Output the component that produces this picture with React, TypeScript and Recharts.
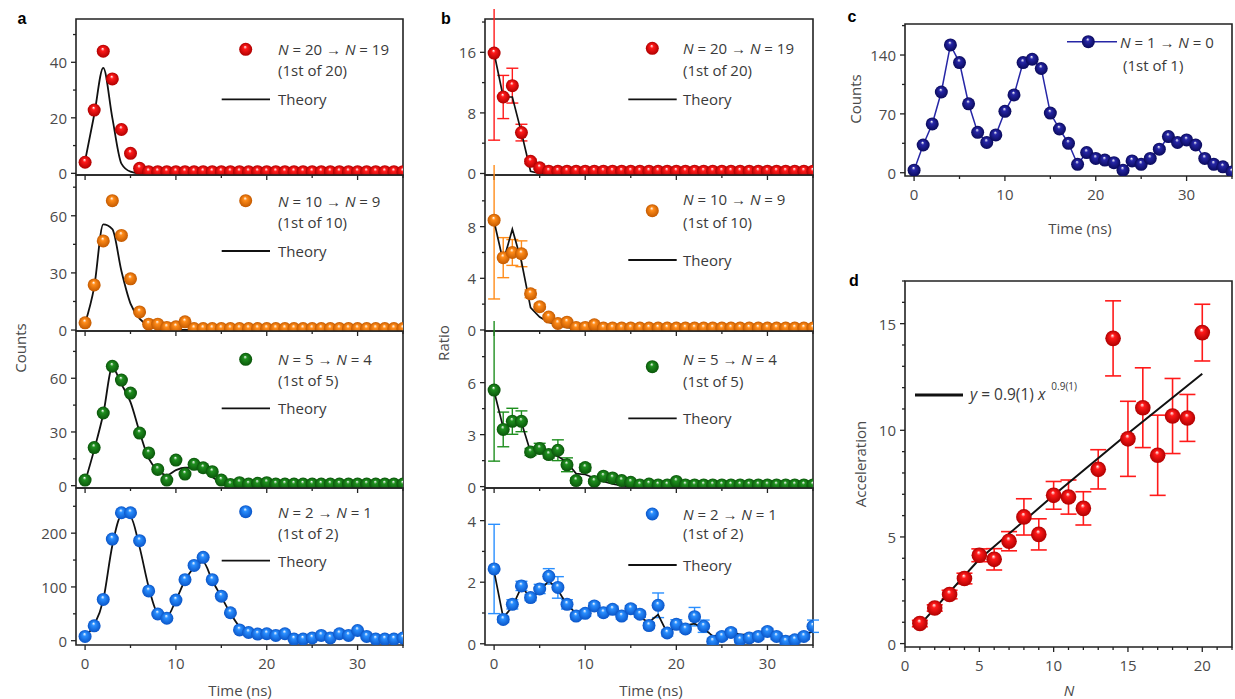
import React from 'react';
import { ComposedChart, Scatter, Line, XAxis, YAxis, ErrorBar, ReferenceArea } from 'recharts';

// ---------- data ----------
const TIME = [0, 1, 2, 3, 4, 5, 6, 7, 8, 9, 10, 11, 12, 13, 14, 15, 16, 17, 18, 19, 20, 21, 22, 23, 24, 25, 26, 27, 28, 29, 30, 31, 32, 33, 34, 35];

// panel a: counts
const A1_OBS = [4, 22.8, 44, 34, 15.8, 7.2, 1.8, 0.6, 0.6, 0.6, 0.6, 0.6, 0.6, 0.6, 0.6, 0.6, 0.6, 0.6, 0.6, 0.6, 0.6, 0.6, 0.6, 0.6, 0.6, 0.6, 0.6, 0.6, 0.6, 0.6, 0.6, 0.6, 0.6, 0.6, 0.6, 0.6];
const A1_TH = [4.5, 21, 38, 20, 3.5, 0.6, 0, 0, 0, 0, 0, 0, 0, 0, 0, 0, 0, 0, 0, 0, 0, 0, 0, 0, 0, 0, 0, 0, 0, 0, 0, 0, 0, 0, 0, 0];
const A2_OBS = [3.8, 23.7, 46.8, 67.9, 49.7, 26.9, 9.5, 3.1, 3.1, 1.4, 1.7, 4.3, 0.8, 0.8, 0.8, 0.8, 0.8, 0.8, 0.8, 0.8, 0.8, 0.8, 0.8, 0.8, 0.8, 0.8, 0.8, 0.8, 0.8, 0.8, 0.8, 0.8, 0.8, 0.8, 0.8, 0.8];
const A2_TH = [3.5, 22.5, 55.5, 53, 31, 13.9, 6, 2.3, 1, 0.5, 0.2, 0.1, 0, 0, 0, 0, 0, 0, 0, 0, 0, 0, 0, 0, 0, 0, 0, 0, 0, 0, 0, 0, 0, 0, 0, 0];
const A3_OBS = [3.1, 21.3, 40.6, 66.7, 59, 51.7, 29.4, 18.3, 9.1, 3.1, 14.3, 6.5, 11.9, 10, 7.8, 3.1, 0.7, 1.7, 0.9, 1.3, 1.7, 0.9, 0.9, 0.9, 0.9, 0.9, 0.9, 0.9, 0.9, 0.9, 0.9, 0.9, 0.9, 0.9, 0.9, 0.9];
const A3_TH = [2.2, 20, 40, 66, 56.7, 46.7, 30, 15.2, 8.7, 5.9, 8.7, 10, 10, 8.7, 5, 1.3, 0, 0, 0, 0, 0, 0, 0, 0, 0, 0, 0, 0, 0, 0, 0, 0, 0, 0, 0, 0];
const A4_OBS = [8, 27.6, 76.7, 189, 238, 238, 186, 92.6, 49.7, 41.7, 75.5, 113.5, 140, 155, 113.5, 82.8, 52, 20, 15.3, 12.3, 12.9, 9.8, 12.9, 3, 3, 5, 9.8, 5, 12.9, 9.8, 19, 8, 3, 3, 3, 5];
const A4_TH = [8, 29, 75.5, 177, 232, 230, 174, 100, 51, 45, 75.5, 112, 136, 146, 112, 81.6, 51, 26, 11, 6.7, 6.7, 6, 6, 3.7, 4.3, 5.5, 8, 9.8, 9.8, 10.4, 11, 8, 4.3, 2.5, 1.8, 1.8];

// panel b: ratio
const B1_OBS = [15.9, 10.1, 11.6, 5.4, 1.6, 0.75, 0.3, 0.3, 0.3, 0.3, 0.3, 0.3, 0.3, 0.3, 0.3, 0.3, 0.3, 0.3, 0.3, 0.3, 0.3, 0.3, 0.3, 0.3, 0.3, 0.3, 0.3, 0.3, 0.3, 0.3, 0.3, 0.3, 0.3, 0.3, 0.3, 0.3];
const B1_ERR = [11.5, 2.85, 2.3, 1.1, 0.3, 0.2, 0, 0, 0, 0, 0, 0, 0, 0, 0, 0, 0, 0, 0, 0, 0, 0, 0, 0, 0, 0, 0, 0, 0, 0, 0, 0, 0, 0, 0, 0];
const B1_TH = [15.9, 10.1, 10.1, 5.4, 0.3, 0, 0, 0, 0, 0, 0, 0, 0, 0, 0, 0, 0, 0, 0, 0, 0, 0, 0, 0, 0, 0, 0, 0, 0, 0, 0, 0, 0, 0, 0, 0];
const B2_OBS = [8.5, 5.6, 6.0, 5.9, 2.8, 1.8, 1.0, 0.5, 0.6, 0.2, 0.2, 0.4, 0.15, 0.15, 0.15, 0.15, 0.15, 0.15, 0.15, 0.15, 0.15, 0.15, 0.15, 0.15, 0.15, 0.15, 0.15, 0.15, 0.15, 0.15, 0.15, 0.15, 0.15, 0.15, 0.15, 0.15];
const B2_ERR = [6.1, 1.55, 1.0, 1.0, 0.3, 0.2, 0.15, 0.1, 0.1, 0.05, 0.05, 0.05, 0, 0, 0, 0, 0, 0, 0, 0, 0, 0, 0, 0, 0, 0, 0, 0, 0, 0, 0, 0, 0, 0, 0, 0];
const B2_TH = [8.4, 5.3, 7.8, 5.3, 1.73, 1.0, 0.6, 0.37, 0.2, 0.1, 0, 0, 0, 0, 0, 0, 0, 0, 0, 0, 0, 0, 0, 0, 0, 0, 0, 0, 0, 0, 0, 0, 0, 0, 0, 0];
const B3_OBS = [5.57, 3.3, 3.77, 3.77, 2.0, 2.2, 1.85, 2.1, 1.26, 0.35, 1.1, 0.3, 0.6, 0.5, 0.35, 0.25, 0.1, 0.15, 0.1, 0.1, 0.3, 0.1, 0.1, 0.1, 0.1, 0.1, 0.1, 0.1, 0.1, 0.1, 0.1, 0.1, 0.1, 0.1, 0.1, 0.1];
const B3_ERR = [4.1, 1.0, 0.75, 0.6, 0.2, 0.3, 0.2, 0.6, 0.4, 0.15, 0.2, 0.1, 0.1, 0.1, 0.1, 0.05, 0, 0, 0, 0, 0, 0, 0, 0, 0, 0, 0, 0, 0, 0, 0, 0, 0, 0, 0, 0];
const B3_TH = [5.5, 3.4, 3.6, 3.7, 2.0, 1.95, 1.85, 1.75, 1.4, 0.75, 0.7, 0.5, 0.3, 0.15, 0.05, 0, 0, 0, 0, 0, 0, 0, 0, 0, 0, 0, 0, 0, 0, 0, 0, 0, 0, 0, 0, 0];
const B4_OBS = [2.43, 0.79, 1.28, 1.88, 1.5, 1.78, 2.19, 1.83, 1.28, 0.9, 0.99, 1.23, 1.01, 1.12, 0.9, 1.14, 0.96, 0.59, 1.25, 0.35, 0.63, 0.48, 0.88, 0.57, 0.08, 0.24, 0.37, 0.13, 0.19, 0.24, 0.4, 0.24, 0.08, 0.13, 0.24, 0.57];
const B4_ERR = [1.45, 0.1, 0.15, 0.15, 0.1, 0.15, 0.25, 0.35, 0.15, 0.1, 0.1, 0.1, 0.1, 0.1, 0.1, 0.1, 0.1, 0.1, 0.4, 0.1, 0.15, 0.1, 0.3, 0.2, 0.1, 0.1, 0.1, 0.1, 0.1, 0.1, 0.1, 0.1, 0.1, 0.1, 0.1, 0.2];
const B4_TH = [2.35, 0.85, 1.2, 1.85, 1.5, 1.7, 2.05, 1.75, 1.25, 1.0, 0.98, 1.2, 1.05, 1.05, 0.95, 1.05, 0.85, 0.7, 0.95, 0.35, 0.55, 0.6, 0.65, 0.5, 0.25, 0.3, 0.38, 0.3, 0.3, 0.32, 0.35, 0.28, 0.22, 0.25, 0.28, 0.4];

// panel c: counts N=1 -> N=0
const C_COUNTS = [3, 33, 58, 96, 152, 131, 82, 48, 36, 45, 73, 92.5, 131, 135, 124, 71, 52, 35, 10, 24, 17, 15, 12, 3, 14, 10, 17, 28, 43, 36, 39, 33, 17, 10, 7, 1];

// panel d: acceleration vs N
const D_N = [1, 2, 3, 4, 5, 6, 7, 8, 9, 10, 11, 12, 13, 14, 15, 16, 17, 18, 19, 20];
const D_ACC = [0.94, 1.67, 2.3, 3.05, 4.14, 3.95, 4.8, 5.94, 5.12, 6.95, 6.87, 6.34, 8.17, 14.31, 9.6, 11.06, 8.83, 10.67, 10.58, 14.58];
const D_ERR = [0.15, 0.15, 0.2, 0.25, 0.3, 0.5, 0.45, 0.85, 0.73, 0.65, 0.8, 0.78, 0.92, 1.76, 1.76, 1.87, 1.88, 1.76, 1.1, 1.33];
const D_FIT = [0.88, null, null, null, 3.95, null, null, null, null, 6.95, null, null, null, null, 9.85, null, null, null, null, 12.65];

// tick values
const X_TIME_TICKS = [0, 5, 10, 15, 20, 25, 30, 35];
const X_TIME_MAJOR = [0, 10, 20, 30];
const A_Y_TICKS = [[0, 10, 20, 30, 40, 50], [0, 15, 30, 45, 60, 75], [0, 15, 30, 45, 60, 75], [0, 50, 100, 150, 200, 250]];
const A_Y_MAJOR = [[0, 20, 40], [0, 30, 60], [0, 30, 60], [0, 100, 200]];
const B_Y_TICKS = [[0, 4, 8, 12, 16, 20], [0, 2, 4, 6, 8, 10], [0, 1.5, 3, 4.5, 6, 7.5], [0, 1, 2, 3, 4, 5]];
const B_Y_MAJOR = [[0, 8, 16], [0, 4, 8], [0, 3, 6], [0, 2, 4]];
const C_Y_TICKS = [0, 35, 70, 105, 140, 175];
const C_Y_MAJOR = [0, 70, 140];
const D_X_TICKS = [0, 1, 2, 3, 4, 5, 6, 7, 8, 9, 10, 11, 12, 13, 14, 15, 16, 17, 18, 19, 20, 21, 22];
const D_X_MAJOR = [0, 5, 10, 15, 20];
const D_Y_TICKS = [0, 1, 2, 3, 4, 5, 6, 7, 8, 9, 10, 11, 12, 13, 14, 15, 16, 17];
const D_Y_MAJOR = [0, 5, 10, 15];

// ---------- styling ----------
const FONT = '"Open Sans", "Liberation Sans", sans-serif';
const AX = '#222';
const TXT = '#4a4a4a';
const LEG = '#3a3a3a';
const COLORS: Record<string, { base: string; dark: string }> = {
  red: { base: '#ff1a1a', dark: '#b00000' },
  orange: { base: '#ff8c1a', dark: '#c45a00' },
  green: { base: '#1f8f1f', dark: '#0a560a' },
  blue: { base: '#2a8fff', dark: '#0a55c8' },
  navy: { base: '#2626a6', dark: '#0a0a5c' },
};

const YW = 60;
const XH = 40;
const PT = 10;
const PR = 10;

function Ball({ cx, cy, r, color }: { cx: number; cy: number; r: number; color: string }) {
  if (cx == null || cy == null || isNaN(cx) || isNaN(cy)) return <g />;
  return <circle cx={cx} cy={cy} r={r} fill={`url(#g-${color})`} />;
}

const ballShape = (color: string, r: number) => (props: any) => <Ball cx={props.cx} cy={props.cy} r={r} color={color} />;

function makeXTick(majors: number[], showLabels: boolean) {
  return (props: any) => {
    const { x, y, payload } = props;
    const v = payload.value;
    const major = majors.includes(v);
    return (
      <g>
        <line x1={x} x2={x} y1={y} y2={y + (major ? 5 : 3)} stroke={AX} strokeWidth={1.3} />
        {major && showLabels && (
          <text x={x} y={y + 18} textAnchor="middle" dominantBaseline="central" fontSize={15} fill={TXT} fontFamily={FONT}>
            {v}
          </text>
        )}
      </g>
    );
  };
}

function makeYTick(majors: number[]) {
  return (props: any) => {
    const { x, y, payload } = props;
    const v = payload.value;
    const major = majors.includes(v);
    return (
      <g>
        <line x1={x} x2={x - (major ? 5 : 3)} y1={y} y2={y} stroke={AX} strokeWidth={1.3} />
        {major && (
          <text x={x - 9} y={y} textAnchor="end" dominantBaseline="central" fontSize={15} fill={TXT} fontFamily={FONT}>
            {v}
          </text>
        )}
      </g>
    );
  };
}

type PanelProps = {
  left: number;
  top: number;
  width: number;
  height: number;
  data: any[];
  xKey: string;
  xDomain: [number, number];
  yDomain: [number, number];
  xTicks: number[];
  xMajor: number[];
  showXLabels: boolean;
  yTicks: number[];
  yMajor: number[];
  children: React.ReactNode;
};

function Panel(p: PanelProps) {
  return (
    <div style={{ position: 'absolute', left: p.left - YW, top: p.top - PT }}>
      <ComposedChart
        width={YW + p.width + PR}
        height={PT + p.height + XH}
        data={p.data}
        margin={{ top: PT, right: PR, bottom: 0, left: 0 }}
      >
        <XAxis
          type="number"
          dataKey={p.xKey}
          domain={p.xDomain}
          ticks={p.xTicks}
          interval={0}
          height={XH}
          tickSize={0}
          tickMargin={0}
          axisLine={false}
          tickLine={false}
          allowDataOverflow
          tick={makeXTick(p.xMajor, p.showXLabels)}
        />
        <YAxis
          type="number"
          domain={p.yDomain}
          ticks={p.yTicks}
          interval={0}
          width={YW}
          tickSize={0}
          tickMargin={0}
          axisLine={false}
          tickLine={false}
          allowDataOverflow
          tick={makeYTick(p.yMajor)}
        />
        <ReferenceArea
          x1={p.xDomain[0]}
          x2={p.xDomain[1]}
          y1={p.yDomain[0]}
          y2={p.yDomain[1]}
          fill="none"
          stroke={AX}
          strokeWidth={1.6}
          ifOverflow="visible"
        />
        {p.children}
      </ComposedChart>
    </div>
  );
}

const SUB_Y: [number, number][] = [[19, 175], [175, 331], [331, 488], [488, 645]];

const A_SETS = [
  { obs: A1_OBS, th: A1_TH, color: 'red', dom: [-0.6, 55.6] as [number, number] },
  { obs: A2_OBS, th: A2_TH, color: 'orange', dom: [-0.5, 81.4] as [number, number] },
  { obs: A3_OBS, th: A3_TH, color: 'green', dom: [-1.3, 86.4] as [number, number] },
  { obs: A4_OBS, th: A4_TH, color: 'blue', dom: [-8, 284] as [number, number] },
];
const B_SETS = [
  { obs: B1_OBS, err: B1_ERR, th: B1_TH, color: 'red', dom: [-0.2, 20.4] as [number, number] },
  { obs: B2_OBS, err: B2_ERR, th: B2_TH, color: 'orange', dom: [-0.08, 12.0] as [number, number] },
  { obs: B3_OBS, err: B3_ERR, th: B3_TH, color: 'green', dom: [-0.08, 8.98] as [number, number] },
  { obs: B4_OBS, err: B4_ERR, th: B4_TH, color: 'blue', dom: [-0.04, 5.06] as [number, number] },
];

const LEG_LABELS = [
  { from: 20, to: 19, of: 20 },
  { from: 10, to: 9, of: 10 },
  { from: 5, to: 4, of: 5 },
  { from: 2, to: 1, of: 2 },
];
const LEG_A_POS = [
  { ball: 49.3, l1: 49.3, l2: 70, th: 99.3 },
  { ball: 200.7, l1: 200.7, l2: 221.7, th: 251 },
  { ball: 359.3, l1: 359.3, l2: 380, th: 408.3 },
  { ball: 511.7, l1: 511.7, l2: 533.3, th: 560.7 },
];
const LEG_B_POS = [
  { ball: 48.3, l1: 48.3, l2: 70, th: 99.3 },
  { ball: 210.7, l1: 199.3, l2: 221.7, th: 260 },
  { ball: 366.7, l1: 359.3, l2: 380.7, th: 418.3 },
  { ball: 514, l1: 514, l2: 533.3, th: 565 },
];

function LegendBlock({ ballX, textX, lineX1, lineX2, pos, lab, color }: any) {
  const t = { fontSize: 15, fill: LEG, fontFamily: FONT, dominantBaseline: 'central' as const };
  return (
    <g>
      <Ball cx={ballX} cy={pos.ball} r={6.5} color={color} />
      <text x={textX} y={pos.l1} {...t}>
        <tspan fontStyle="italic">N</tspan> = {lab.from} → <tspan fontStyle="italic">N</tspan> = {lab.to}
      </text>
      <text x={textX} y={pos.l2} {...t}>(1st of {lab.of})</text>
      <line x1={lineX1} x2={lineX2} y1={pos.th} y2={pos.th} stroke="#111" strokeWidth={1.8} />
      <text x={textX} y={pos.th} {...t}>Theory</text>
    </g>
  );
}

export default function App() {
  const aRows = A_SETS.map((s) => TIME.map((t, i) => ({ t, obs: s.obs[i], theory: s.th[i] })));
  const bRows = B_SETS.map((s) => TIME.map((t, i) => ({ t, obs: s.obs[i], err: s.err[i], theory: s.th[i] })));
  const cRows = TIME.map((t, i) => ({ t, counts: C_COUNTS[i] }));
  const dRows = D_N.map((n, i) => ({ n, acc: D_ACC[i], accErr: D_ERR[i], fit: D_FIT[i] }));

  const title = { fontSize: 15, fill: TXT, fontFamily: FONT, textAnchor: 'middle' as const, dominantBaseline: 'central' as const };
  const letter = { fontSize: 16, fontWeight: 700, fill: '#000', fontFamily: '"Liberation Sans", Arial, sans-serif', textAnchor: 'middle' as const, dominantBaseline: 'central' as const };

  return (
    <div style={{ position: 'absolute', left: 0, top: 0, width: 1235, height: 699, background: '#fff', overflow: 'hidden' }}>
      <svg width={0} height={0} style={{ position: 'absolute' }}>
        <defs>
          {Object.entries(COLORS).map(([k, c]) => (
            <radialGradient key={k} id={`g-${k}`} cx="50%" cy="50%" r="50%" fx="45%" fy="30%">
              <stop offset="0%" stopColor="#ffffff" />
              <stop offset="28%" stopColor={c.base} />
              <stop offset="100%" stopColor={c.dark} />
            </radialGradient>
          ))}
        </defs>
      </svg>

      {A_SETS.map((s, k) => (
        <Panel
          key={`a${k}`}
          left={76}
          top={SUB_Y[k][0]}
          width={327}
          height={SUB_Y[k][1] - SUB_Y[k][0]}
          data={aRows[k]}
          xKey="t"
          xDomain={[-1, 35]}
          yDomain={s.dom}
          xTicks={X_TIME_TICKS}
          xMajor={X_TIME_MAJOR}
          showXLabels={k === 3}
          yTicks={A_Y_TICKS[k]}
          yMajor={A_Y_MAJOR[k]}
        >
          <Scatter dataKey="obs" shape={ballShape(s.color, 6.5)} isAnimationActive={false} />
          <Line dataKey="theory" type="monotone" stroke="#111" strokeWidth={1.8} dot={false} isAnimationActive={false} />
        </Panel>
      ))}

      {B_SETS.map((s, k) => (
        <Panel
          key={`b${k}`}
          left={485}
          top={SUB_Y[k][0]}
          width={328}
          height={SUB_Y[k][1] - SUB_Y[k][0]}
          data={bRows[k]}
          xKey="t"
          xDomain={[-1, 35]}
          yDomain={s.dom}
          xTicks={X_TIME_TICKS}
          xMajor={X_TIME_MAJOR}
          showXLabels={k === 3}
          yTicks={B_Y_TICKS[k]}
          yMajor={B_Y_MAJOR[k]}
        >
          <Scatter dataKey="obs" shape={ballShape(s.color, 6.5)} isAnimationActive={false}>
            <ErrorBar dataKey="err" direction="y" width={6} strokeWidth={1.4} stroke={COLORS[s.color].base} />
          </Scatter>
          <Line dataKey="theory" type="linear" stroke="#111" strokeWidth={1.7} dot={false} isAnimationActive={false} />
        </Panel>
      ))}

      <Panel
        left={905}
        top={24}
        width={327}
        height={152}
        data={cRows}
        xKey="t"
        xDomain={[-1, 35]}
        yDomain={[-3.9, 176.9]}
        xTicks={X_TIME_TICKS}
        xMajor={X_TIME_MAJOR}
        showXLabels={true}
        yTicks={C_Y_TICKS}
        yMajor={C_Y_MAJOR}
      >
        <Line
          dataKey="counts"
          type="linear"
          stroke={COLORS.navy.base}
          strokeWidth={1.5}
          isAnimationActive={false}
          dot={(props: any) => <Ball key={`cd${props.index}`} cx={props.cx} cy={props.cy} r={6.5} color="navy" />}
        />
      </Panel>

      <Panel
        left={905}
        top={281}
        width={327}
        height={366}
        data={dRows}
        xKey="n"
        xDomain={[0, 22]}
        yDomain={[-0.16, 17]}
        xTicks={D_X_TICKS}
        xMajor={D_X_MAJOR}
        showXLabels={true}
        yTicks={D_Y_TICKS}
        yMajor={D_Y_MAJOR}
      >
        <Scatter dataKey="acc" shape={ballShape('red', 7.8)} isAnimationActive={false}>
          <ErrorBar dataKey="accErr" direction="y" width={8} strokeWidth={1.6} stroke={COLORS.red.base} />
        </Scatter>
        <Line dataKey="fit" type="linear" connectNulls stroke="#111" strokeWidth={2} dot={false} isAnimationActive={false} />
      </Panel>

      <svg width={1235} height={699} style={{ position: 'absolute', left: 0, top: 0, pointerEvents: 'none' }}>
        <text x={22} y={18} {...letter}>a</text>
        <text x={446} y={18} {...letter}>b</text>
        <text x={852} y={16} {...letter}>c</text>
        <text x={854} y={280} {...letter}>d</text>

        {A_SETS.map((s, k) => (
          <LegendBlock key={`la${k}`} ballX={245.7} textX={278} lineX1={221.7} lineX2={270} pos={LEG_A_POS[k]} lab={LEG_LABELS[k]} color={s.color} />
        ))}
        {B_SETS.map((s, k) => (
          <LegendBlock key={`lb${k}`} ballX={652.3} textX={683} lineX1={628.3} lineX2={676.7} pos={LEG_B_POS[k]} lab={LEG_LABELS[k]} color={s.color} />
        ))}

        <g>
          <line x1={1067} x2={1117} y1={41.7} y2={41.7} stroke={COLORS.navy.base} strokeWidth={1.5} />
          <Ball cx={1088.3} cy={41.7} r={6.5} color="navy" />
          <text x={1120} y={41.7} fontSize={15} fill={LEG} fontFamily={FONT} dominantBaseline="central">
            <tspan fontStyle="italic">N</tspan> = 1 → <tspan fontStyle="italic">N</tspan> = 0
          </text>
          <text x={1123} y={65} fontSize={15} fill={LEG} fontFamily={FONT} dominantBaseline="central">(1st of 1)</text>
        </g>

        <g>
          <line x1={915} x2={963} y1={395} y2={395} stroke="#111" strokeWidth={3} />
          <text x={970} y={394} fontSize={15.5} fill={LEG} fontFamily={FONT} dominantBaseline="central">
            <tspan fontStyle="italic">y</tspan> = 0.9(1) <tspan fontStyle="italic">x</tspan>
            <tspan dx={6} dy={-8} fontSize={10}>0.9(1)</tspan>
          </text>
        </g>

        <text x={20} y={348} {...title} transform="rotate(-90 20 348)">Counts</text>
        <text x={443} y={343} {...title} transform="rotate(-90 443 343)">Ratio</text>
        <text x={240} y={690} {...title}>Time (ns)</text>
        <text x={651} y={690} {...title}>Time (ns)</text>
        <text x={855} y={99} {...title} transform="rotate(-90 855 99)">Counts</text>
        <text x={1080} y={228} {...title}>Time (ns)</text>
        <text x={860} y={464} {...title} transform="rotate(-90 860 464)">Acceleration</text>
        <text x={1069} y={690} {...title} fontStyle="italic">N</text>
      </svg>
    </div>
  );
}
